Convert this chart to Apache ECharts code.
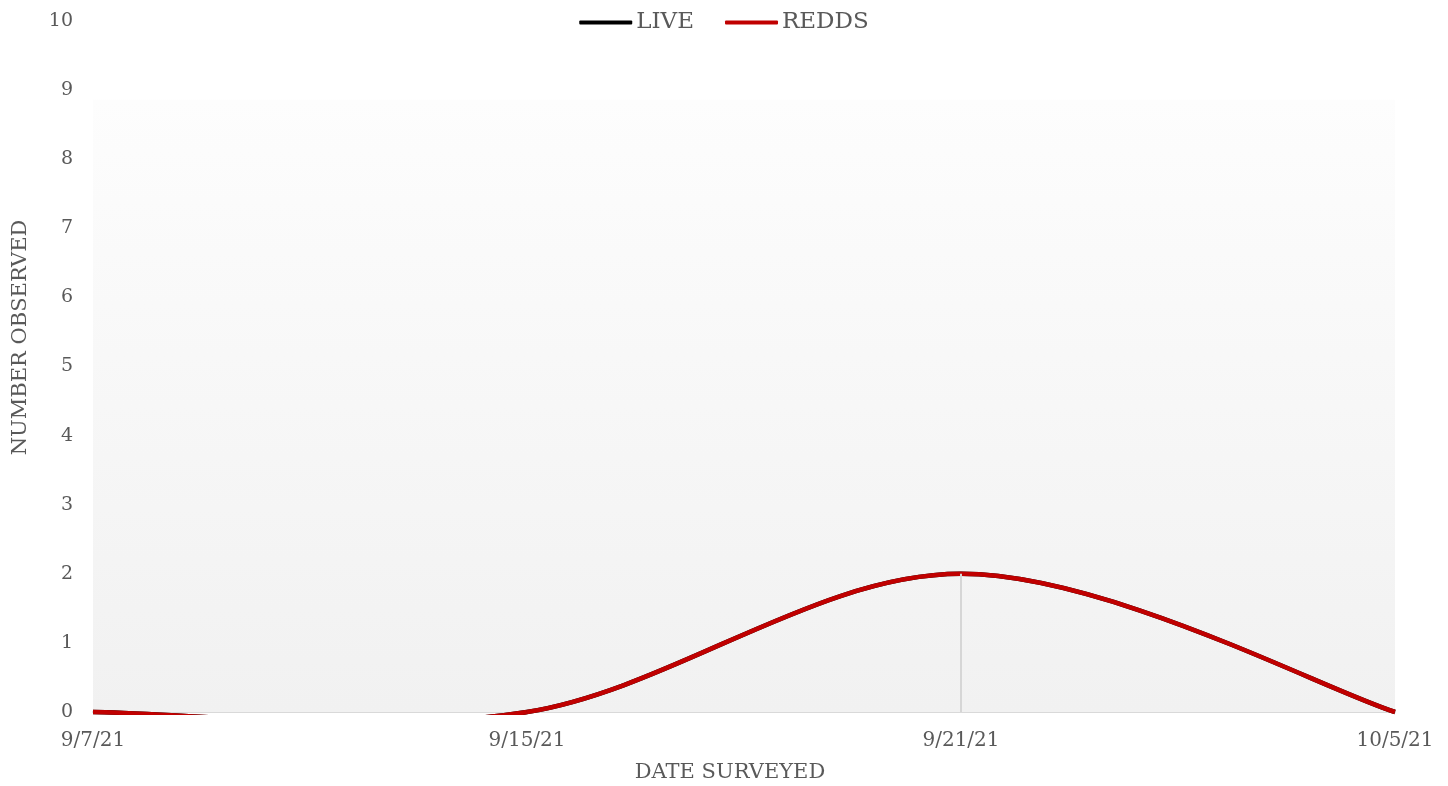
<!DOCTYPE html>
<html>
<head>
<meta charset="utf-8">
<script src="https://cdn.jsdelivr.net/npm/echarts@6/dist/echarts.min.js"></script>
<style>
html, body { margin: 0; padding: 0; background: #fff; }
#main { width: 1448px; height: 786px; }
</style>
</head>
<body>
<div id="main"></div>
<script>
// survey data
const dates = ['9/7/21', '9/15/21', '9/21/21', '10/5/21'];
const liveCounts = [0, 0, 2, 0];
const reddCounts = [0, 0, 2, 0];
const yTicks = [0, 1, 2, 3, 4, 5, 6, 7, 8, 9, 10];

const FONT = '"DejaVu Serif", serif';
const TXT = '#595959';

// spreadsheet-style smoothed line: one bezier segment per point, clipped to the plot
function smoothRender(values, color) {
    return function (params, api) {
        const i = params.dataIndex;
        if (i >= values.length - 1) return null;
        const p = j => {
            const k = Math.max(0, Math.min(values.length - 1, j));
            return api.coord([k, values[k]]);
        };
        const p0 = p(i - 1), p1 = p(i), p2 = p(i + 1), p3 = p(i + 2);
        const cs = params.coordSys;
        return {
            type: 'group',
            clipPath: {
                type: 'rect',
                shape: { x: cs.x - 3, y: cs.y - 3, width: cs.width + 6, height: cs.height + 6 }
            },
            children: [{
                type: 'bezierCurve',
                shape: {
                    x1: p1[0], y1: p1[1],
                    cpx1: p1[0] + (p2[0] - p0[0]) / 6, cpy1: p1[1] + (p2[1] - p0[1]) / 6,
                    cpx2: p2[0] - (p3[0] - p1[0]) / 6, cpy2: p2[1] - (p3[1] - p1[1]) / 6,
                    x2: p2[0], y2: p2[1]
                },
                style: { stroke: color, lineWidth: 4.5, fill: null, lineCap: 'butt' }
            }]
        };
    };
}

const chart = echarts.init(document.getElementById('main'));
const option = {
    animation: false,
    textStyle: { fontFamily: FONT },
    legend: {
        top: 6,
        left: 'center',
        itemWidth: 53,
        itemHeight: 4,
        itemGap: 31,
        icon: 'roundRect',
        textStyle: { fontFamily: FONT, fontSize: 23, color: TXT, padding: [0, 0, 0, -1] },
        data: ['LIVE', 'REDDS']
    },
    grid: { left: 93, right: 53, top: 21, bottom: 74, outerBoundsMode: 'none', containLabel: false },
    xAxis: {
        type: 'category',
        data: dates,
        boundaryGap: false,
        name: 'DATE SURVEYED',
        nameLocation: 'middle',
        nameGap: 50,
        nameTextStyle: { fontFamily: FONT, fontSize: 21, color: TXT, padding: [0, 28, 0, 0] },
        axisLine: { lineStyle: { color: '#d9d9d9', width: 2 } },
        axisTick: { show: false },
        axisLabel: { fontFamily: FONT, fontSize: 20, color: TXT, margin: 19 },
        splitLine: { show: false }
    },
    yAxis: {
        type: 'value',
        min: yTicks[0],
        max: yTicks[yTicks.length - 1],
        interval: 1,
        name: 'NUMBER OBSERVED',
        nameLocation: 'middle',
        nameGap: 62,
        nameTextStyle: { fontFamily: FONT, fontSize: 21, color: TXT, padding: [0, 0, 0, 58] },
        axisLine: { show: false },
        axisTick: { show: false },
        axisLabel: { fontFamily: FONT, fontSize: 19, color: TXT, margin: 20 },
        splitLine: { show: false }
    },
    series: [
        {
            name: 'LIVE',
            type: 'custom',
            data: liveCounts.map((v, i) => [i, v]),
            encode: { x: 0, y: 1 },
            renderItem: smoothRender(liveCounts, '#000000'),
            itemStyle: { color: '#000000' },
            z: 2,
            markArea: {
                silent: true,
                itemStyle: {
                    color: new echarts.graphic.LinearGradient(0, 0, 0, 1, [
                        { offset: 0, color: '#fdfdfd' },
                        { offset: 1, color: '#f1f1f1' }
                    ])
                },
                data: [[{ xAxis: dates[0], yAxis: 8.86 }, { xAxis: dates[dates.length - 1], yAxis: 0 }]]
            },
            markLine: {
                silent: true,
                symbol: 'none',
                label: { show: false },
                lineStyle: { color: '#d6d6d6', width: 2, type: 'solid' },
                data: [[{ coord: [dates[2], 0] }, { coord: [dates[2], liveCounts[2]] }]]
            }
        },
        {
            name: 'REDDS',
            type: 'custom',
            data: reddCounts.map((v, i) => [i, v]),
            encode: { x: 0, y: 1 },
            renderItem: smoothRender(reddCounts, '#c00000'),
            itemStyle: { color: '#c00000' },
            z: 3
        }
    ]
};
chart.setOption(option);
window.addEventListener('resize', function () {
    chart.resize();
});
</script>
</body>
</html>
